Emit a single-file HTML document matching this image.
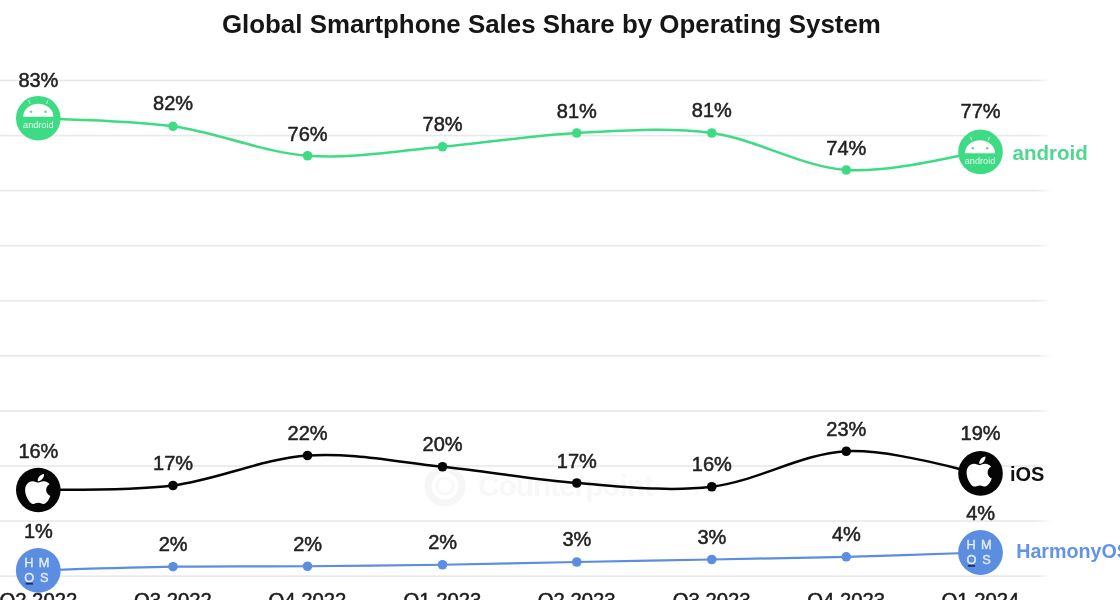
<!DOCTYPE html>
<html lang="en"><head><meta charset="utf-8"><title>Global Smartphone Sales Share by Operating System</title>
<style>
html,body{margin:0;padding:0;background:#fff;}
body{width:1120px;height:600px;overflow:hidden;font-family:"Liberation Sans",Arial,sans-serif;}
svg{display:block;filter:blur(0.45px);font-family:"Liberation Sans",Arial,sans-serif;}
.lbl{font-size:20px;fill:#222;stroke:#222;stroke-width:0.5px;text-anchor:middle;}
.ax{font-size:20.3px;fill:#1c1c1c;stroke:#1c1c1c;stroke-width:0.5px;text-anchor:middle;}
.ttl{font-size:25.9px;font-weight:bold;fill:#161616;text-anchor:middle;}
.leg{font-size:20px;font-weight:bold;}
</style></head><body>
<svg width="1120" height="600" viewBox="0 0 1120 600">
<defs><linearGradient id="gf" x1="0" x2="1" y1="0" y2="0"><stop offset="0" stop-color="#e9e9e9"/><stop offset="0.985" stop-color="#e9e9e9"/><stop offset="1" stop-color="#e9e9e9" stop-opacity="0"/></linearGradient></defs>
<rect width="1120" height="600" fill="#fff"/>

<g id="grid">
<rect x="0" y="79.65" width="1052" height="1.7" fill="url(#gf)"/>
<rect x="0" y="134.72" width="1052" height="1.7" fill="url(#gf)"/>
<rect x="0" y="189.79" width="1052" height="1.7" fill="url(#gf)"/>
<rect x="0" y="244.86" width="1052" height="1.7" fill="url(#gf)"/>
<rect x="0" y="299.93" width="1052" height="1.7" fill="url(#gf)"/>
<rect x="0" y="355.00" width="1052" height="1.7" fill="url(#gf)"/>
<rect x="0" y="410.07" width="1052" height="1.7" fill="url(#gf)"/>
<rect x="0" y="465.14" width="1052" height="1.7" fill="url(#gf)"/>
<rect x="0" y="520.21" width="1052" height="1.7" fill="url(#gf)"/>
<rect x="0" y="575.28" width="1052" height="1.7" fill="url(#gf)"/>
</g>
<g id="watermark" fill="none" stroke="#f6f6f6"><circle cx="445" cy="486" r="17" stroke-width="7"/><circle cx="445" cy="486" r="8" stroke-width="3" stroke="#f9f9f9"/></g>
<text x="478" y="496" font-size="30" font-weight="bold" fill="#f8f8f8" textLength="176">Counterpoint</text>
<text class="ttl" x="551.4" y="32.7">Global Smartphone Sales Share by Operating System</text>
<path d="M38.30 118.20 C60.75 119.55 128.13 120.04 173.00 126.30 C217.87 132.56 262.58 152.34 307.50 155.75 C352.42 159.16 397.62 150.54 442.50 146.75 C487.38 142.96 531.88 135.29 576.75 133.00 C621.62 130.71 666.83 126.83 711.75 133.00 C756.67 139.17 801.46 166.85 846.25 170.00 C891.04 173.15 958.12 154.92 980.50 151.90" fill="none" stroke="#3ddc84" stroke-width="2.5" stroke-linecap="round"/>
<circle cx="173" cy="126.3" r="4.8" fill="#3ddc84"/>
<circle cx="307.5" cy="155.75" r="4.8" fill="#3ddc84"/>
<circle cx="442.5" cy="146.75" r="4.8" fill="#3ddc84"/>
<circle cx="576.75" cy="133" r="4.8" fill="#3ddc84"/>
<circle cx="711.75" cy="133" r="4.8" fill="#3ddc84"/>
<circle cx="846.25" cy="170" r="4.8" fill="#3ddc84"/>
<path d="M38.30 490.00 C60.75 489.25 128.13 491.25 173.00 485.50 C217.87 479.75 262.58 458.62 307.50 455.50 C352.42 452.38 397.62 462.17 442.50 466.75 C487.38 471.33 531.88 479.67 576.75 483.00 C621.62 486.33 666.83 492.04 711.75 486.75 C756.67 481.46 801.46 453.48 846.25 451.25 C891.04 449.02 958.12 469.71 980.50 473.40" fill="none" stroke="#050505" stroke-width="2.5" stroke-linecap="round"/>
<circle cx="173" cy="485.5" r="4.8" fill="#050505"/>
<circle cx="307.5" cy="455.5" r="4.8" fill="#050505"/>
<circle cx="442.5" cy="466.75" r="4.8" fill="#050505"/>
<circle cx="576.75" cy="483" r="4.8" fill="#050505"/>
<circle cx="711.75" cy="486.75" r="4.8" fill="#050505"/>
<circle cx="846.25" cy="451.25" r="4.8" fill="#050505"/>
<path d="M38.30 570.40 C60.75 569.78 128.13 567.39 173.00 566.70 C217.87 566.01 262.58 566.58 307.50 566.25 C352.42 565.92 397.62 565.46 442.50 564.75 C487.38 564.04 531.88 562.88 576.75 562.00 C621.62 561.12 666.83 560.37 711.75 559.50 C756.67 558.63 801.46 557.97 846.25 556.80 C891.04 555.63 958.12 553.22 980.50 552.50" fill="none" stroke="#5b8de0" stroke-width="2.2" stroke-linecap="round"/>
<circle cx="173" cy="566.7" r="4.8" fill="#5b8de0"/>
<circle cx="307.5" cy="566.25" r="4.8" fill="#5b8de0"/>
<circle cx="442.5" cy="564.75" r="4.8" fill="#5b8de0"/>
<circle cx="576.75" cy="562" r="4.8" fill="#5b8de0"/>
<circle cx="711.75" cy="559.5" r="4.8" fill="#5b8de0"/>
<circle cx="846.25" cy="556.8" r="4.8" fill="#5b8de0"/>
<text class="lbl" x="38.40" y="87">83%</text>
<text class="lbl" x="173.10" y="110">82%</text>
<text class="lbl" x="307.60" y="141.25">76%</text>
<text class="lbl" x="442.60" y="131.25">78%</text>
<text class="lbl" x="576.85" y="117.5">81%</text>
<text class="lbl" x="711.85" y="116.5">81%</text>
<text class="lbl" x="846.35" y="155">74%</text>
<text class="lbl" x="980.60" y="118">77%</text>
<text class="lbl" x="38.40" y="457.5">16%</text>
<text class="lbl" x="173.10" y="469.5">17%</text>
<text class="lbl" x="307.60" y="440">22%</text>
<text class="lbl" x="442.60" y="451.25">20%</text>
<text class="lbl" x="576.85" y="467.5">17%</text>
<text class="lbl" x="711.85" y="471">16%</text>
<text class="lbl" x="846.35" y="435.5">23%</text>
<text class="lbl" x="980.60" y="440">19%</text>
<text class="lbl" x="38.40" y="537.5">1%</text>
<text class="lbl" x="173.10" y="551">2%</text>
<text class="lbl" x="307.60" y="550.75">2%</text>
<text class="lbl" x="442.60" y="549.25">2%</text>
<text class="lbl" x="576.85" y="546.25">3%</text>
<text class="lbl" x="711.85" y="544.25">3%</text>
<text class="lbl" x="846.35" y="541">4%</text>
<text class="lbl" x="980.60" y="519.5">4%</text>
<text class="ax" x="38.3" y="607.1">Q2 2022</text>
<text class="ax" x="173" y="607.1">Q3 2022</text>
<text class="ax" x="307.5" y="607.1">Q4 2022</text>
<text class="ax" x="442.5" y="607.1">Q1 2023</text>
<text class="ax" x="576.75" y="607.1">Q2 2023</text>
<text class="ax" x="711.75" y="607.1">Q3 2023</text>
<text class="ax" x="846.25" y="607.1">Q4 2023</text>
<text class="ax" x="980.5" y="607.1">Q1 2024</text>
<g transform="translate(38.3 118.2)"><circle r="22.3" fill="#3ddc84"/><g transform="translate(0 -1.5)"><path d="M-15.1 0 A15.1 13 0 0 1 15.1 0 Z" fill="#fff"/><path d="M-9.4 -16 L-8.4 -13.2 M9.4 -16 L8.4 -13.2" stroke="#e3faec" stroke-width="1" stroke-linecap="round" fill="none"/><circle cx="-7.2" cy="-5" r="1.3" fill="#8fbfa6"/><circle cx="7.2" cy="-5" r="1.3" fill="#8fbfa6"/><text x="0" y="11" font-size="9.6" fill="#e8fbf0" text-anchor="middle" textLength="30.5" lengthAdjust="spacingAndGlyphs">android</text></g></g>
<g transform="translate(980.5 151.9)"><circle r="22.3" fill="#3ddc84"/><g transform="translate(-0.5 1.3)"><path d="M-15.1 0 A15.1 13 0 0 1 15.1 0 Z" fill="#fff"/><path d="M-9.4 -16 L-8.4 -13.2 M9.4 -16 L8.4 -13.2" stroke="#e3faec" stroke-width="1" stroke-linecap="round" fill="none"/><circle cx="-7.2" cy="-5" r="1.3" fill="#8fbfa6"/><circle cx="7.2" cy="-5" r="1.3" fill="#8fbfa6"/><text x="0" y="11" font-size="9.6" fill="#e8fbf0" text-anchor="middle" textLength="30.5" lengthAdjust="spacingAndGlyphs">android</text></g></g>
<g><circle cx="38.3" cy="490" r="22.3" fill="#050505"/><path transform="translate(24.85 471.85) scale(0.067)" d="M318.7 268.7c-.2-36.7 16.4-64.4 50-84.800-18.800-26.900-47.200-41.700-84.700-44.600-35.500-2.800-74.300 20.700-88.500 20.700-15 0-49.400-19.700-76.400-19.700C63.300 141.200 4 184.800 4 273.500q0 39.300 14.400 81.200c12.800 36.700 59 126.700 107.200 125.200 25.200-.6 43-17.900 75.800-17.900 31.800 0 48.300 17.900 76.400 17.900 48.600-.7 90.400-82.500 102.600-119.300-65.200-30.700-61.700-90-61.700-91.900zm-56.600-164.200c27.300-32.400 24.800-61.900 24-72.500-24.100 1.400-52 16.400-67.900 34.900-17.500 19.800-27.800 44.300-25.600 71.900 26.100 2 49.900-11.400 69.500-34.300z" fill="#fff"/></g>
<g><circle cx="980.5" cy="473.4" r="22.3" fill="#050505"/><path transform="translate(966.30 454.45) scale(0.067)" d="M318.7 268.7c-.2-36.7 16.4-64.4 50-84.800-18.800-26.900-47.200-41.700-84.700-44.600-35.500-2.800-74.300 20.700-88.500 20.700-15 0-49.400-19.700-76.400-19.700C63.300 141.200 4 184.800 4 273.500q0 39.300 14.400 81.200c12.800 36.700 59 126.700 107.200 125.200 25.200-.6 43-17.900 75.800-17.900 31.800 0 48.300 17.900 76.400 17.900 48.600-.7 90.400-82.500 102.600-119.300-65.200-30.700-61.700-90-61.700-91.900zm-56.600-164.200c27.300-32.400 24.800-61.900 24-72.500-24.100 1.400-52 16.400-67.900 34.900-17.500 19.800-27.800 44.300-25.600 71.900 26.100 2 49.900-11.400 69.500-34.300z" fill="#fff"/></g>
<g transform="translate(38.3 570.4)"><circle r="22.4" fill="#5b8de0"/><g font-size="12.8" fill="#e6eeff" stroke="#e6eeff" stroke-width="0.35" text-anchor="middle"><text x="-9.4" y="-3.1">H</text><text x="5.8" y="-3.1">M</text><text x="-9" y="11.3">O</text><text x="6" y="11.3">S</text></g><rect x="-12.6" y="12.4" width="7.2" height="1.8" fill="#1b2a7a"/></g>
<g transform="translate(980.5 552.5)"><circle r="22.4" fill="#5b8de0"/><g font-size="12.8" fill="#e6eeff" stroke="#e6eeff" stroke-width="0.35" text-anchor="middle"><text x="-9.4" y="-3.1">H</text><text x="5.8" y="-3.1">M</text><text x="-9" y="11.3">O</text><text x="6" y="11.3">S</text></g><rect x="-12.6" y="12.4" width="7.2" height="1.8" fill="#1b2a7a"/></g>
<text class="leg" x="1012.5" y="159.5" fill="#4fd691" style="font-size:20.5px">android</text>
<text class="leg" x="1010" y="480.5" fill="#111">iOS</text>
<text class="leg" x="1016.2" y="558.3" fill="#6293e4" style="font-size:19.7px">HarmonyOS</text>
</svg></body></html>
